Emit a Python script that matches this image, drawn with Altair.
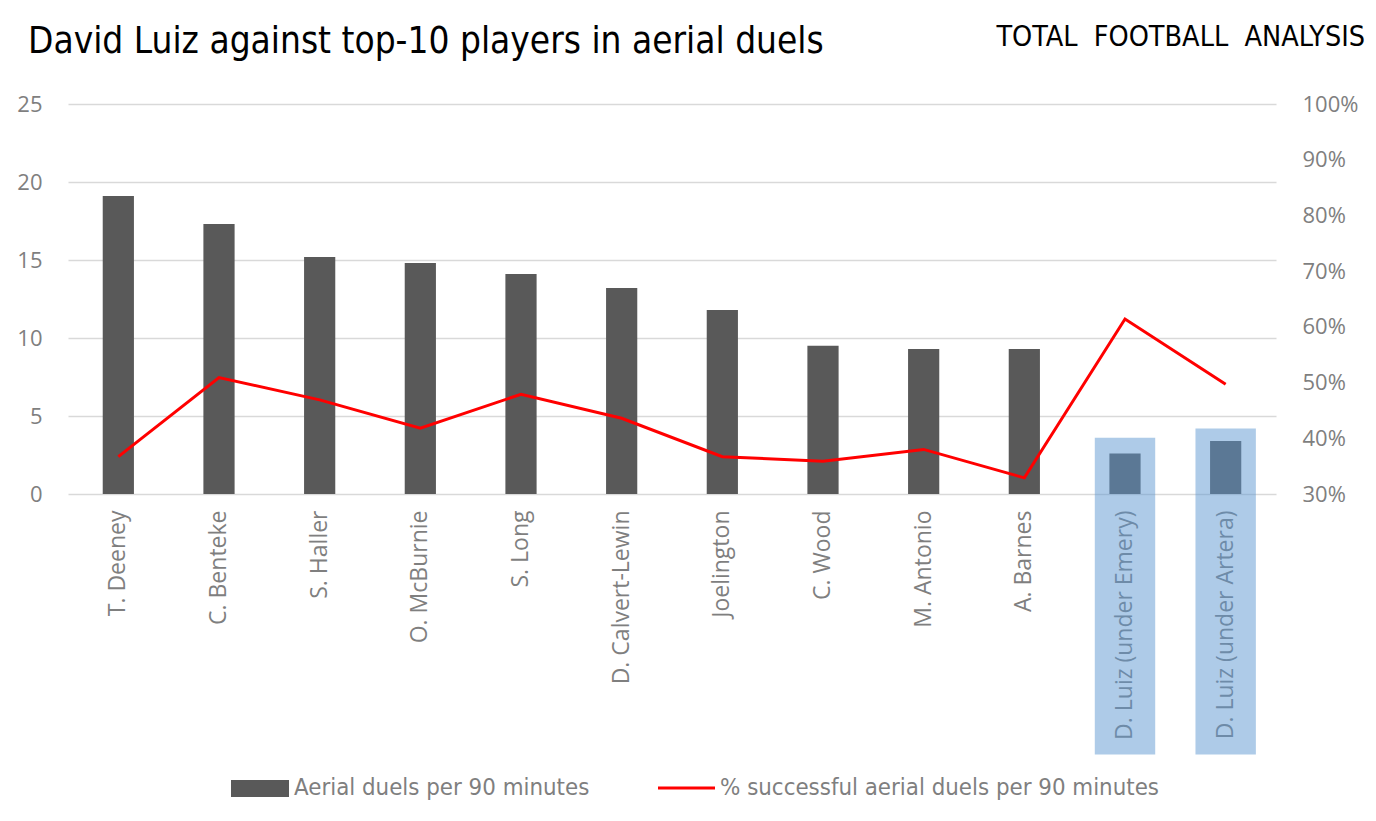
import altair as alt
import pandas as pd

players = ["T. Deeney", "C. Benteke", "S. Haller", "O. McBurnie", "S. Long",
           "D. Calvert-Lewin", "Joelington", "C. Wood", "M. Antonio", "A. Barnes",
           "D. Luiz (under Emery)", "D. Luiz (under Artera)"]
duels = [19.1, 17.3, 15.2, 14.8, 14.1, 13.2, 11.8, 9.5, 9.3, 9.3, 2.6, 3.4]
success = [0.367, 0.509, 0.469, 0.418, 0.479, 0.436, 0.367, 0.359, 0.380, 0.329, 0.614, 0.497]

hl_players = ["D. Luiz (under Emery)", "D. Luiz (under Artera)"]
hl_top = [3.6, 4.2]
hl_bottom = [-16.7, -16.7]

left_ticks = [0, 5, 10, 15, 20, 25]
right_ticks = [0.3, 0.4, 0.5, 0.6, 0.7, 0.8, 0.9, 1.0]

title_text = "David Luiz against top-10 players in aerial duels"
logo_text = "TOTAL\u00a0\u00a0FOOTBALL\u00a0\u00a0ANALYSIS"
legend_bar = "Aerial duels per 90 minutes"
legend_line = "% successful aerial duels per 90 minutes"

df = pd.DataFrame({"player": players, "duels": duels, "success": success})
hl = pd.DataFrame({"player": hl_players, "top": hl_top, "bottom": hl_bottom})

W, H = 1208, 390
AX = "Open Sans"
NARROW = "Liberation Sans Narrow, DejaVu Sans Condensed, sans-serif"
GRAY = "#7f7f7f"

xenc = alt.X("player:N", sort=players,
             scale=alt.Scale(paddingInner=0, paddingOuter=0),
             axis=alt.Axis(title=None, labelAngle=-90, labelFont=AX, labelFontSize=23,
                           labelColor=GRAY, labelPadding=16, domain=False, ticks=False,
                           grid=False, labelLimit=400))

yscale = alt.Scale(domain=[0, 25], nice=False, zero=False)

bars = alt.Chart(df).mark_bar(color="#595959", width=alt.RelativeBandSize(0.31)).encode(
    x=xenc,
    y=alt.Y("duels:Q", scale=yscale,
            axis=alt.Axis(values=left_ticks, title=None, labelFont=AX, labelFontSize=22,
                          labelColor=GRAY, labelPadding=26, domain=False, ticks=False,
                          gridColor="#d9d9d9", gridWidth=1.5, orient="left")))

overlay = alt.Chart(hl).mark_bar(color="#5d97d1", opacity=0.5,
                                 width=alt.RelativeBandSize(0.6)).encode(
    x=xenc,
    y=alt.Y("top:Q", scale=yscale, axis=None),
    y2="bottom:Q")

line = alt.Chart(df).mark_line(color="#ff0000", strokeWidth=3).encode(
    x=xenc,
    y=alt.Y("success:Q", scale=alt.Scale(domain=[0.3, 1.0], nice=False, zero=False),
            axis=alt.Axis(orient="right", format=".0%", values=right_ticks, title=None,
                          labelFont=AX, labelFontSize=22, labelColor=GRAY, labelPadding=26,
                          domain=False, ticks=False, grid=False)))


def txt(s, x, y, size, font, color, align="left"):
    return alt.Chart(pd.DataFrame({"t": [s]})).mark_text(
        align=align, baseline="middle", font=font, fontSize=size, color=color).encode(
        text="t:N", x=alt.value(x), y=alt.value(y))


title = txt(title_text, -40, -62, 36.7, NARROW, "#000000")
logo = txt(logo_text, 1297, -67, 28.5, NARROW, "#000000", align="right")
leg_t1 = txt(legend_bar, 226, 684, 23.8, NARROW, GRAY)
leg_t2 = txt(legend_line, 652, 684, 23.8, NARROW, GRAY)
leg_sw = alt.Chart(pd.DataFrame({"k": [0]})).mark_rect(color="#595959").encode(
    x=alt.value(163), x2=alt.value(221), y=alt.value(676), y2=alt.value(693))
leg_ln = alt.Chart(pd.DataFrame({"k": [0]})).mark_rule(color="#ff0000", strokeWidth=3).encode(
    x=alt.value(590), x2=alt.value(647), y=alt.value(684))

chart = alt.layer(bars, overlay, line, title, logo, leg_sw, leg_ln, leg_t1, leg_t2).resolve_scale(
    y="independent"
).properties(
    width=W, height=H,
    autosize=alt.AutoSizeParams(type="none"),
    padding={"left": 68, "top": 104, "right": 100, "bottom": 327},
    background="white",
).configure_view(stroke=None)

chart.save("out.html", embed_options={"renderer": "svg", "actions": False})
